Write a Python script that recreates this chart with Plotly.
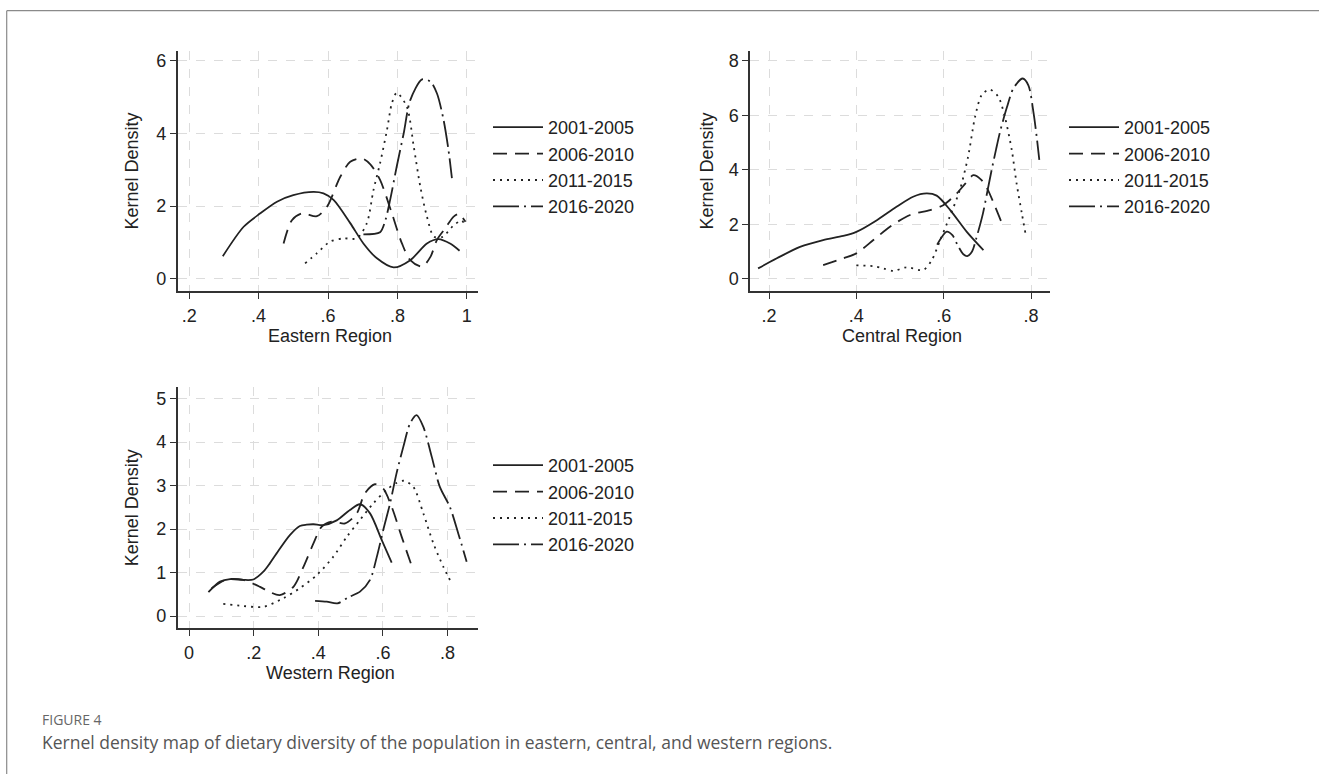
import plotly.graph_objects as go

W, H = 1319, 774

# ---------------- data ----------------
PERIODS = ["2001-2005", "2006-2010", "2011-2015", "2016-2020"]

EAST_X_0105 = [0.297, 0.357, 0.405, 0.453, 0.50, 0.558, 0.587, 0.616, 0.664, 0.702, 0.741, 0.789, 0.837, 0.885, 0.918, 0.953, 0.979]
EAST_Y_0105 = [0.62, 1.43, 1.80, 2.12, 2.30, 2.39, 2.35, 2.17, 1.53, 0.97, 0.56, 0.31, 0.51, 0.97, 1.09, 0.96, 0.77]
EAST_X_0610 = [0.472, 0.496, 0.525, 0.568, 0.597, 0.635, 0.664, 0.698, 0.722, 0.75, 0.784, 0.813, 0.837, 0.871, 0.895, 0.914, 0.938, 0.962, 0.977, 0.996]
EAST_Y_0610 = [0.97, 1.61, 1.80, 1.72, 1.98, 2.80, 3.22, 3.31, 3.15, 2.72, 1.80, 0.97, 0.51, 0.33, 0.60, 1.07, 1.39, 1.71, 1.78, 1.57]
EAST_X_1115 = [0.534, 0.568, 0.606, 0.645, 0.683, 0.712, 0.731, 0.75, 0.77, 0.784, 0.798, 0.827, 0.847, 0.866, 0.885, 0.905, 0.93, 0.96, 0.985, 0.995]
EAST_Y_1115 = [0.42, 0.70, 1.02, 1.11, 1.11, 1.53, 2.44, 3.18, 4.10, 4.83, 5.12, 4.74, 3.64, 2.53, 1.71, 1.16, 1.15, 1.45, 1.60, 1.45]
EAST_X_1620 = [0.702, 0.75, 0.765, 0.779, 0.798, 0.818, 0.837, 0.871, 0.895, 0.914, 0.933, 0.947, 0.957]
EAST_Y_1620 = [1.22, 1.28, 1.60, 2.17, 3.09, 4.00, 4.92, 5.49, 5.43, 5.10, 4.37, 3.55, 2.77]

CEN_X_0105 = [0.175, 0.218, 0.271, 0.324, 0.37, 0.40, 0.447, 0.492, 0.53, 0.561, 0.584, 0.615, 0.653, 0.691]
CEN_Y_0105 = [0.38, 0.75, 1.17, 1.42, 1.57, 1.72, 2.15, 2.64, 3.01, 3.13, 3.05, 2.52, 1.72, 1.05]
CEN_X_0610 = [0.324, 0.37, 0.40, 0.439, 0.477, 0.523, 0.569, 0.599, 0.63, 0.65, 0.668, 0.685, 0.70, 0.718, 0.735]
CEN_Y_0610 = [0.50, 0.75, 0.93, 1.42, 1.91, 2.34, 2.52, 2.70, 3.13, 3.50, 3.80, 3.65, 3.30, 2.64, 1.97]
CEN_X_1115 = [0.40, 0.439, 0.462, 0.485, 0.515, 0.553, 0.573, 0.592, 0.614, 0.637, 0.656, 0.672, 0.687, 0.705, 0.725, 0.74, 0.756, 0.767, 0.779, 0.787]
CEN_Y_1115 = [0.49, 0.46, 0.38, 0.29, 0.42, 0.32, 0.69, 1.42, 2.28, 3.26, 4.48, 5.95, 6.74, 6.95, 6.68, 5.95, 4.72, 3.50, 2.40, 1.69]
CEN_X_1620 = [0.585, 0.607, 0.62, 0.633, 0.645, 0.654, 0.665, 0.675, 0.69, 0.70, 0.71, 0.72, 0.73, 0.745, 0.76, 0.781, 0.794, 0.806, 0.813, 0.819]
CEN_Y_1620 = [1.25, 1.73, 1.60, 1.20, 0.90, 0.83, 1.00, 1.50, 2.40, 3.20, 4.00, 4.75, 5.45, 6.30, 7.00, 7.35, 7.10, 6.07, 5.21, 4.36]

WEST_X_0105 = [0.06, 0.096, 0.127, 0.168, 0.199, 0.23, 0.25, 0.271, 0.312, 0.343, 0.364, 0.385, 0.415, 0.457, 0.498, 0.529, 0.56, 0.596, 0.627]
WEST_Y_0105 = [0.55, 0.79, 0.85, 0.83, 0.84, 1.02, 1.21, 1.44, 1.86, 2.07, 2.10, 2.11, 2.09, 2.20, 2.44, 2.57, 2.36, 1.75, 1.23]
WEST_X_0610 = [0.07, 0.116, 0.168, 0.22, 0.25, 0.281, 0.323, 0.354, 0.385, 0.41, 0.441, 0.483, 0.519, 0.544, 0.575, 0.601, 0.627, 0.658, 0.689]
WEST_Y_0610 = [0.64, 0.84, 0.83, 0.67, 0.55, 0.48, 0.67, 1.13, 1.67, 2.05, 2.17, 2.13, 2.36, 2.82, 3.03, 2.93, 2.51, 1.82, 1.15]
WEST_X_1115 = [0.106, 0.168, 0.23, 0.292, 0.343, 0.395, 0.446, 0.488, 0.529, 0.57, 0.611, 0.642, 0.665, 0.694, 0.725, 0.756, 0.787, 0.81]
WEST_Y_1115 = [0.28, 0.23, 0.21, 0.41, 0.64, 0.94, 1.36, 1.82, 2.21, 2.59, 2.90, 3.06, 3.11, 2.97, 2.36, 1.67, 1.13, 0.79]
WEST_X_1620 = [0.39, 0.426, 0.459, 0.493, 0.529, 0.56, 0.581, 0.601, 0.622, 0.642, 0.663, 0.684, 0.704, 0.725, 0.751, 0.776, 0.807, 0.833, 0.859]
WEST_Y_1620 = [0.35, 0.33, 0.29, 0.43, 0.56, 0.83, 1.36, 1.98, 2.59, 3.28, 3.89, 4.43, 4.62, 4.35, 3.66, 2.97, 2.51, 1.90, 1.25]

EAST_XTICKS = [0.2, 0.4, 0.6, 0.8, 1.0]
EAST_XLABELS = [".2", ".4", ".6", ".8", "1"]
EAST_YTICKS = [0, 2, 4, 6]
CEN_XTICKS = [0.2, 0.4, 0.6, 0.8]
CEN_XLABELS = [".2", ".4", ".6", ".8"]
CEN_YTICKS = [0, 2, 4, 6, 8]
WEST_XTICKS = [0, 0.2, 0.4, 0.6, 0.8]
WEST_XLABELS = ["0", ".2", ".4", ".6", ".8"]
WEST_YTICKS = [0, 1, 2, 3, 4, 5]

REGION_TITLES = ["Eastern Region", "Central Region", "Western Region"]
YTITLE = "Kernel Density"
CAPTION_LABEL = "FIGURE 4"
CAPTION_TEXT = "Kernel density map of dietary diversity of the population in eastern, central, and western regions."

# ---------------- styling ----------------
LINE_COLOR = "#222222"
DASHES = ["solid", "14px,8px", "2px,5px", "26px,5px,2px,5px"]
FONT = "Liberation Sans, Arial, sans-serif"
FS = 18


def px_x(p):
    return p / W


def px_y(p):
    return 1 - p / H


panels = [
    dict(name="e", xs=[EAST_X_0105, EAST_X_0610, EAST_X_1115, EAST_X_1620],
         ys=[EAST_Y_0105, EAST_Y_0610, EAST_Y_1115, EAST_Y_1620],
         xdom=(177.7, 478.3), ydom=(50.7, 291.0), xr=[0.167, 1.033], yr=[-0.34, 6.28],
         xt=EAST_XTICKS, xl=EAST_XLABELS, yt=EAST_YTICKS,
         legx=488, legy=109, ytx=131.7, xtitle=REGION_TITLES[0]),
    dict(name="c", xs=[CEN_X_0105, CEN_X_0610, CEN_X_1115, CEN_X_1620],
         ys=[CEN_Y_0105, CEN_Y_0610, CEN_Y_1115, CEN_Y_1620],
         xdom=(750.0, 1050.0), ydom=(50.7, 291.0), xr=[0.1565, 0.8435], yr=[-0.45, 8.37],
         xt=CEN_XTICKS, xl=CEN_XLABELS, yt=CEN_YTICKS,
         legx=1064, legy=109, ytx=706.7, xtitle=REGION_TITLES[1]),
    dict(name="w", xs=[WEST_X_0105, WEST_X_0610, WEST_X_1115, WEST_X_1620],
         ys=[WEST_Y_0105, WEST_Y_0610, WEST_Y_1115, WEST_Y_1620],
         xdom=(177.7, 478.3), ydom=(387.3, 628.0), xr=[-0.035, 0.895], yr=[-0.276, 5.26],
         xt=WEST_XTICKS, xl=WEST_XLABELS, yt=WEST_YTICKS,
         legx=488, legy=447, ytx=131.7, xtitle=REGION_TITLES[2]),
]

fig = go.Figure()
annotations = []
for i, p in enumerate(panels):
    suffix = "" if i == 0 else str(i + 1)
    legname = "legend" + suffix
    for k in range(4):
        fig.add_trace(go.Scatter(
            x=p["xs"][k], y=p["ys"][k], mode="lines", name=PERIODS[k],
            line=dict(color=LINE_COLOR, width=1.8, dash=DASHES[k], shape="spline", smoothing=0.8),
            xaxis="x" + suffix, yaxis="y" + suffix, legend=legname,
            legendgroup=p["name"] + str(k), showlegend=True, hoverinfo="skip",
        ))
    axis_common = dict(showline=True, linecolor="#333333", linewidth=1.5, ticks="outside",
                       ticklen=6, tickcolor="#333333", tickwidth=1.3, showgrid=True,
                       gridcolor="#dcdcdc", gridwidth=1, griddash="dash", zeroline=False,
                       tickfont=dict(family=FONT, size=FS, color="#222222"), mirror=False)
    fig.layout["xaxis" + suffix] = dict(
        domain=[px_x(p["xdom"][0]), px_x(p["xdom"][1])], range=p["xr"],
        anchor="y" + suffix, tickvals=p["xt"], ticktext=p["xl"], ticklabelstandoff=2,
        **axis_common)
    fig.layout["yaxis" + suffix] = dict(
        domain=[px_y(p["ydom"][1]), px_y(p["ydom"][0])], range=p["yr"],
        anchor="x" + suffix, tickvals=p["yt"], ticktext=[str(v) for v in p["yt"]],
        tickangle=0, **axis_common)
    fig.layout[legname] = dict(
        x=px_x(p["legx"]), y=px_y(p["legy"]), xanchor="left", yanchor="top",
        bgcolor="rgba(0,0,0,0)", borderwidth=0, font=dict(family=FONT, size=FS, color="#222222"),
        itemwidth=50, tracegroupgap=2, traceorder="normal")
    # axis titles
    annotations.append(dict(text=YTITLE, xref="paper", yref="paper",
                            x=px_x(p["ytx"]), y=px_y((p["ydom"][0] + p["ydom"][1]) / 2),
                            xanchor="center", yanchor="middle", textangle=-90, showarrow=False,
                            font=dict(family=FONT, size=FS, color="#222222")))
    annotations.append(dict(text=p["xtitle"], xref="paper", yref="paper",
                            x=px_x((p["xdom"][0] + p["xdom"][1]) / 2 + 2), y=px_y(p["ydom"][1] + 45),
                            xanchor="center", yanchor="middle", showarrow=False,
                            font=dict(family=FONT, size=FS, color="#222222")))

annotations.append(dict(text=CAPTION_LABEL, xref="paper", yref="paper", x=px_x(40), y=px_y(719),
                        xanchor="left", yanchor="middle", showarrow=False,
                        font=dict(family="Open Sans, sans-serif", size=14, color="#666666")))
annotations.append(dict(text=CAPTION_TEXT, xref="paper", yref="paper", x=px_x(40), y=px_y(742),
                        xanchor="left", yanchor="middle", showarrow=False,
                        font=dict(family="Open Sans, sans-serif", size=17.5, color="#555555")))

shapes = [
    dict(type="line", xref="paper", yref="paper", x0=px_x(6.7), x1=1.0, y0=px_y(10.7), y1=px_y(10.7),
         line=dict(color="#8a8a8a", width=1.2)),
    dict(type="line", xref="paper", yref="paper", x0=px_x(6.7), x1=px_x(6.7), y0=px_y(10.7), y1=0.0,
         line=dict(color="#8a8a8a", width=1.2)),
]

fig.update_layout(width=W, height=H, margin=dict(l=0, r=0, t=0, b=0), autosize=False,
                  paper_bgcolor="white", plot_bgcolor="white", annotations=annotations,
                  shapes=shapes, showlegend=True)

fig.write_html("out.html", config={"displayModeBar": False})
